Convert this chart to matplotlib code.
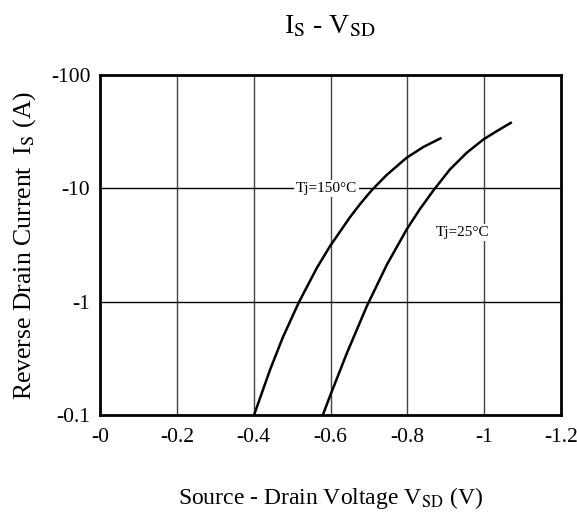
import matplotlib
matplotlib.use("Agg")
from matplotlib import pyplot as plt

plt.rcParams["font.family"] = ["Liberation Serif", "DejaVu Serif"]
plt.rcParams["mathtext.fontset"] = "stix"

# source-drain voltage (V, magnitude) and reverse drain current (A, magnitude)
v_150 = [0.401, 0.4425, 0.476, 0.518, 0.565, 0.599, 0.651, 0.677, 0.707, 0.746, 0.798, 0.842, 0.889]
i_150 = [0.1, 0.25, 0.485, 0.993, 2.0, 3.1, 5.58, 7.26, 9.6, 13.1, 18.6, 23.2, 27.9]

v_25 = [0.580, 0.599, 0.643, 0.695, 0.747, 0.799, 0.833, 0.869, 0.911, 0.9545, 0.998, 1.033, 1.072]
i_25 = [0.1, 0.148, 0.354, 0.92, 2.13, 4.38, 6.58, 9.7, 14.7, 20.6, 27.0, 32.0, 38.3]

x_ticks = [0, 0.2, 0.4, 0.6, 0.8, 1.0, 1.2]
x_labels = ["-0", "-0.2", "-0.4", "-0.6", "-0.8", "-1", "-1.2"]
y_ticks = [0.1, 1, 10, 100]
y_labels = ["-0.1", "-1", "-10", "-100"]

fig = plt.figure(figsize=(5.77, 5.14), dpi=100)
ax = fig.add_axes([0.1733, 0.1926, 0.799, 0.6615])

ax.set_yscale("log")
ax.set_xlim(0, 1.2)
ax.set_ylim(0.1, 100)

for x in x_ticks[1:-1]:
    ax.axvline(x, color="#444444", lw=1.0, zorder=1)
for y in y_ticks[1:-1]:
    ax.axhline(y, color="black", lw=1.0, zorder=1)

ax.plot(v_150, i_150, color="black", lw=1.8, zorder=3, solid_capstyle="butt")
ax.plot(v_25, i_25, color="black", lw=1.8, zorder=3, solid_capstyle="butt")

box = dict(facecolor="white", edgecolor="none", pad=1.5)
ax.text(0.589, 10, "Tj=150°C", fontsize=11, ha="center", va="center", bbox=box, zorder=2)
ax.text(0.945, 4.1, "Tj=25°C", fontsize=11, ha="center", va="center", bbox=box, zorder=2)

ax.set_xticks(x_ticks)
ax.set_xticklabels(x_labels)
ax.set_yticks(y_ticks)
ax.set_yticklabels(y_labels)
ax.minorticks_off()
ax.tick_params(length=0, labelsize=15.5)
ax.tick_params(axis="x", pad=9)
ax.tick_params(axis="y", pad=7)

for s in ax.spines.values():
    s.set_linewidth(2.0)

ax.set_xlabel(r"Source - Drain Voltage V$_\mathrm{SD}$ (V)", fontsize=17, labelpad=28)
ax.set_ylabel(r"Reverse Drain Current  I$_\mathrm{S}$ (A)", fontsize=18.5, labelpad=9)
fig.text(0.572, 0.949, r"I$_\mathrm{S}$ - V$_\mathrm{SD}$", fontsize=20, ha="center", va="center")

fig.savefig("out.png", dpi=100)
